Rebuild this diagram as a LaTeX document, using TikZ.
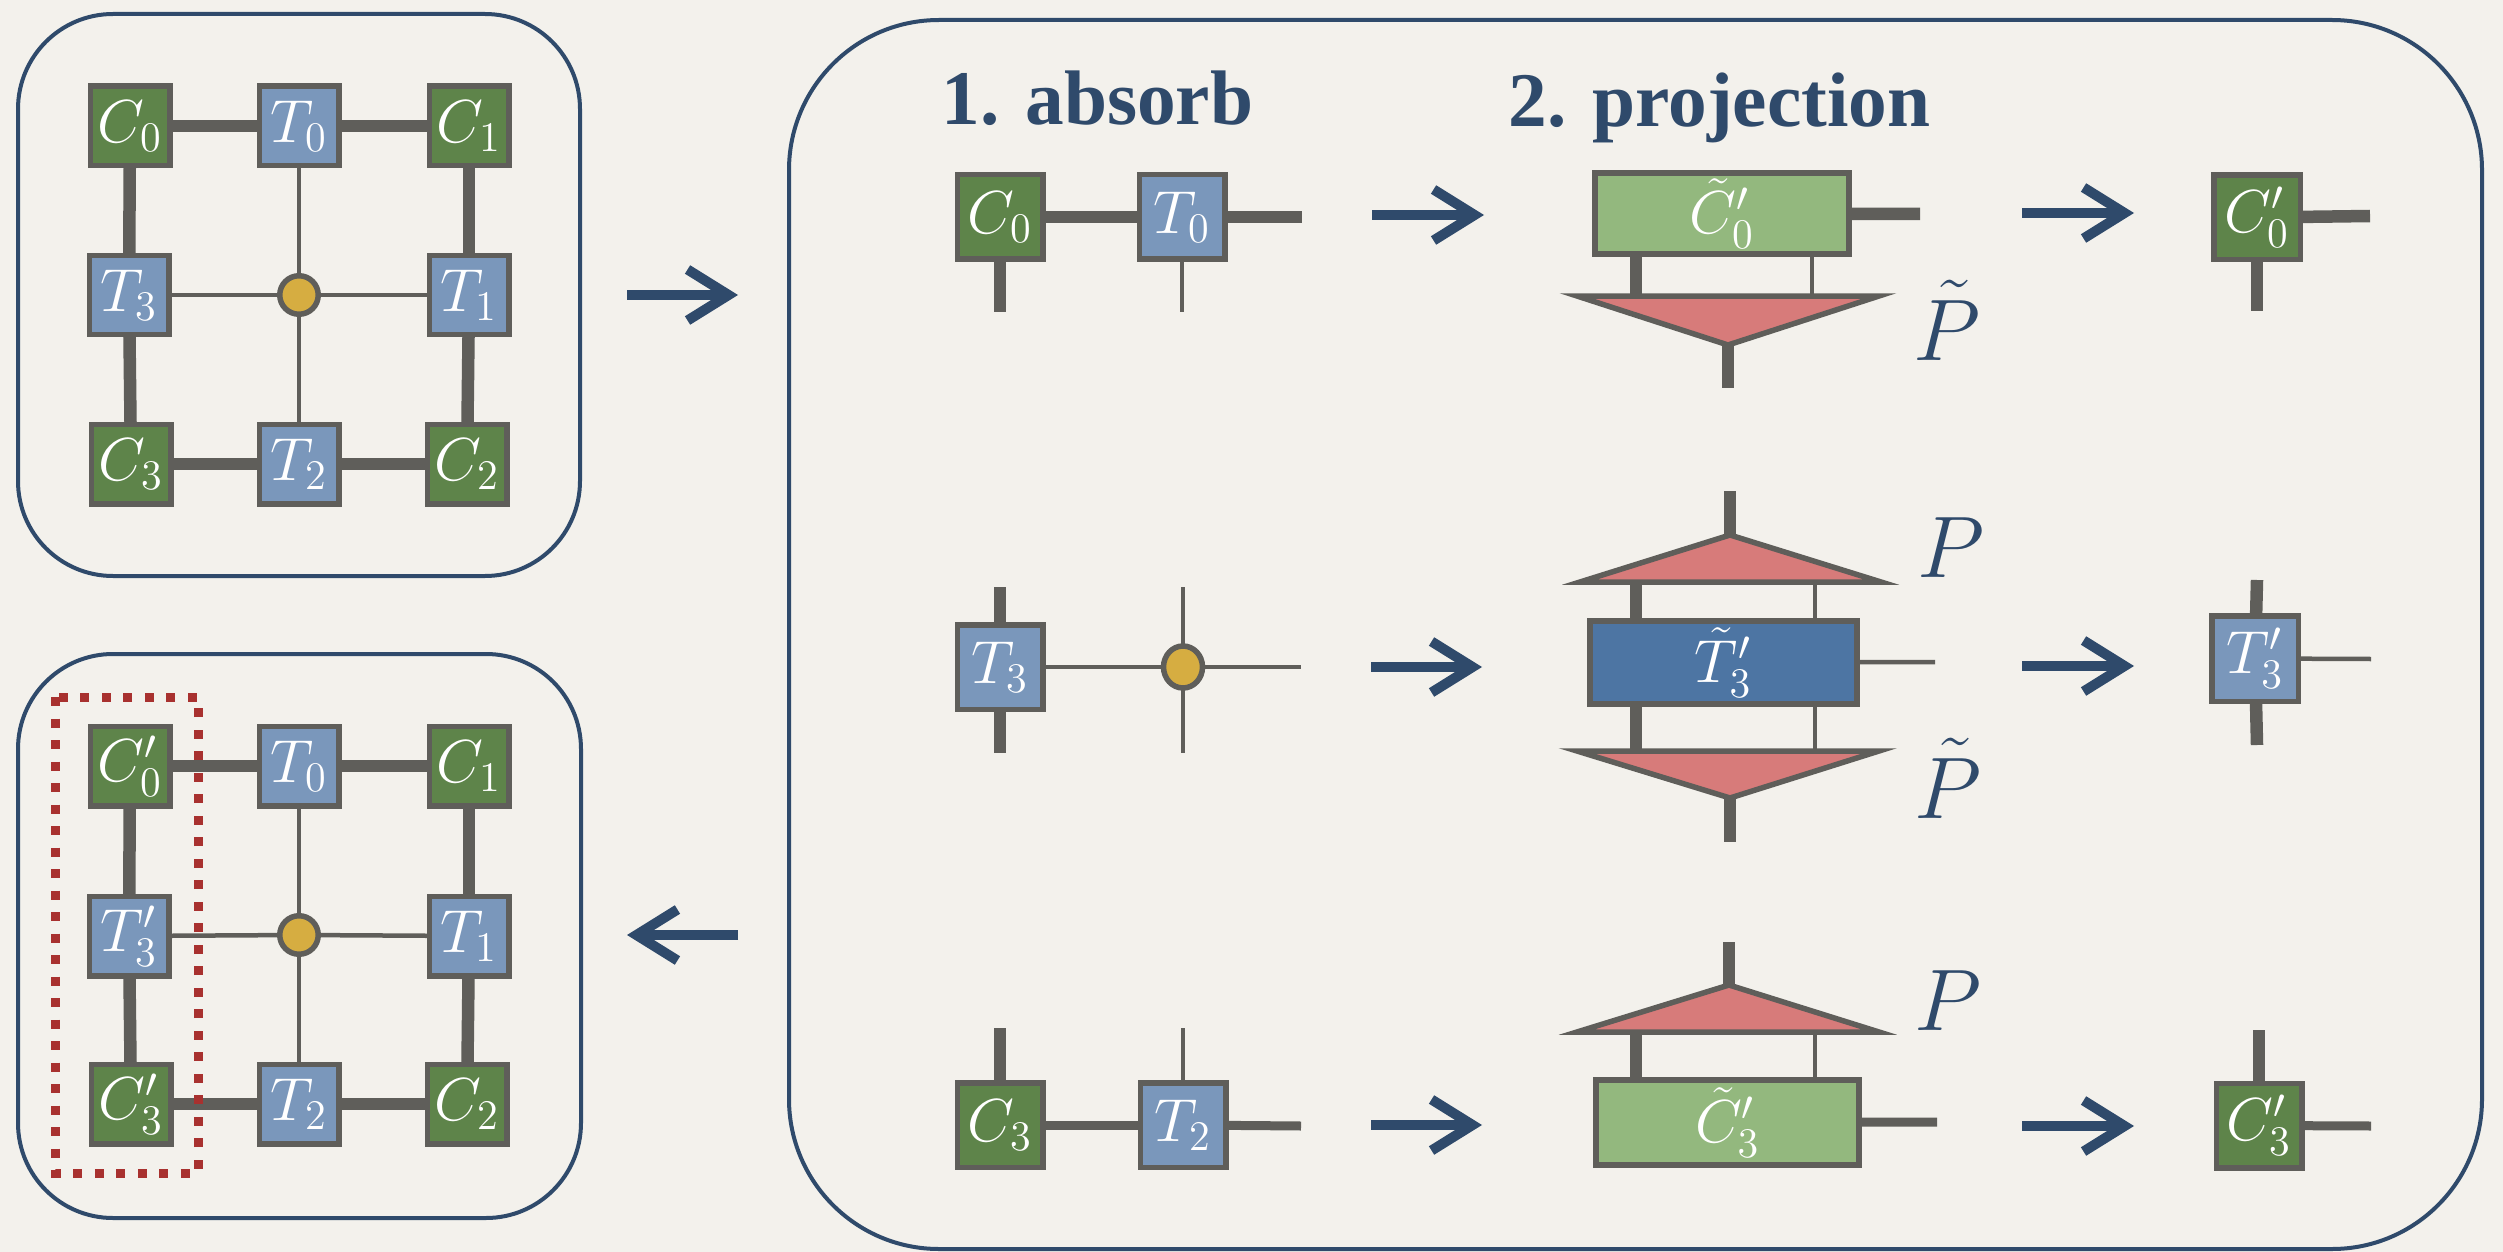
\documentclass[tikz,border=0pt]{standalone}
\usepackage{fontspec}
\newfontfamily\titlefont{Liberation Serif}
\usetikzlibrary{arrows.meta,shapes.geometric}
\definecolor{paper}{HTML}{F3F1EC}
\definecolor{navy}{HTML}{2F4A6B}
\definecolor{lgray}{HTML}{5F5E5A}
\definecolor{cgreen}{HTML}{5E844A}
\definecolor{tblue}{HTML}{7A97BB}
\definecolor{lgreen}{HTML}{93B87E}
\definecolor{dblue}{HTML}{4D75A3}
\definecolor{pred}{HTML}{D77B7A}
\definecolor{ygold}{HTML}{D6AD41}
\definecolor{dred}{HTML}{A8312F}
\pgfdeclarelayer{edges}
\pgfsetlayers{edges,main}
\begin{document}
\begin{tikzpicture}[x=0.1mm,y=-0.1mm,
  tn/.style={draw=lgray, line width=0.55mm, minimum width=7.95mm, minimum height=7.95mm, inner sep=0pt, text=white, font=\fontsize{16.7}{20}\selectfont},
  rn/.style={tn, minimum width=8.55mm, minimum height=8.45mm},
  cg/.style={tn, fill=cgreen},
  tb/.style={tn, fill=tblue},
  bigbox/.style={draw=lgray, line width=0.6mm, inner sep=0pt, text=white, font=\fontsize{16.7}{20}\selectfont},
  dot/.style={circle, draw=lgray, fill=ygold, line width=0.55mm, minimum size=3.85mm, inner sep=0pt},
  thickb/.style={draw=lgray, line width=1.25mm},
  midb/.style={draw=lgray, line width=0.9mm},
  thinb/.style={draw=lgray, line width=0.45mm},
  panel/.style={draw=navy, line width=0.4mm},
  arr/.style={draw=navy, line width=1mm, -{Straight Barb[length=4.1mm,width=5.1mm]}},
  tri/.style={fill=pred, draw=lgray, line width=0.55mm, line join=miter},
  lab/.style={text=navy, font=\fontsize{26}{30}\selectfont, inner sep=0pt},
  ttl/.style={text=navy, font=\titlefont\bfseries\fontsize{22}{26}\selectfont, inner sep=0pt, anchor=base west}
]
\useasboundingbox (0,0) rectangle (2503,1252);
\begin{pgfonlayer}{edges}
\fill[paper] (0,0) rectangle (2503,1252);
\end{pgfonlayer}

% panels
\draw[panel, rounded corners=9.5mm] (18,14) rectangle (580,576);
\draw[panel, rounded corners=9.5mm] (18,654) rectangle (581,1218);
\draw[panel, rounded corners=15mm] (789,20) rectangle (2482,1249);

% ---------- top grid ----------
\node[cg] (gC0) at (130,126) {$C_0$};
\node[tb] (gT0) at (299,126) {$T_0$};
\node[cg] (gC1) at (469,126) {$C_1$};
\node[tb] (gT3) at (129,295) {$T_3$};
\node[dot] (gX) at (299,295) {};
\node[tb] (gT1) at (469,295) {$T_1$};
\node[cg] (gC3) at (131,464) {$C_3$};
\node[tb] (gT2) at (299,464) {$T_2$};
\node[cg] (gC2) at (467,464) {$C_2$};

% ---------- bottom grid ----------
\node[cg] (hC0) at (130,766) {$C'_0$};
\node[tb] (hT0) at (299,766) {$T_0$};
\node[cg] (hC1) at (469,766) {$C_1$};
\node[tb] (hT3) at (129,936) {$T'_3$};
\node[dot] (hX) at (299,935) {};
\node[tb] (hT1) at (469,936) {$T_1$};
\node[cg] (hC3) at (131,1104) {$C'_3$};
\node[tb] (hT2) at (299,1104) {$T_2$};
\node[cg] (hC2) at (467,1104) {$C_2$};
\draw[dred, line width=0.9mm, dash pattern=on 0.9mm off 1.25mm] (55,697) rectangle (198,1173);

% left arrows
\coordinate (la1) at (627,295); \coordinate (lb1) at (738,295);
\coordinate (la2) at (738,935); \coordinate (lb2) at (627,935);
\draw[arr] (la1) -- (lb1);
\draw[arr] (la2) -- (lb2);

% titles
\node[ttl] (t1) at (941,125) {1. absorb};
\node[ttl] (t2) at (1508,127) {2. projection};

% ---------- row 1 ----------
\node[rn, fill=cgreen] (rC0) at (1000,217) {$C_0$};
\node[rn, fill=tblue] (rT0) at (1182,217) {$T_0$};
\coordinate (r1e) at (1302,217);
\coordinate (r1d1) at (1000,312);
\coordinate (r1d2) at (1182,312);
\coordinate (a1s) at (1372,215); \coordinate (a1e) at (1484,215);
\draw[arr] (a1s) -- (a1e);
\node[bigbox, fill=lgreen, minimum width=25.4mm, minimum height=8.1mm] (bC0) at (1722,213.5) {$\tilde{C}'_0$};
\coordinate (b1e) at (1920,214);
\coordinate (t1L) at (1577,296); \coordinate (t1R) at (1879,296); \coordinate (t1A) at (1728,345);
\coordinate (t1leg) at (1728,388);
\coordinate (l1a) at (1636,296); \coordinate (l1b) at (1812,296);
\draw[tri] (t1L) -- (t1R) -- (t1A) -- cycle;
\node[lab, anchor=base west] (p1) at (1913,360) {$\tilde{P}$};
\coordinate (o1s) at (2022,213); \coordinate (o1e) at (2134,213);
\draw[arr] (o1s) -- (o1e);
\node[rn, fill=cgreen, minimum width=8.65mm] (oC0) at (2257,217.5) {$C'_0$};
\coordinate (oc0e) at (2370,216);
\coordinate (oc0d) at (2257,311);

% ---------- row 2 ----------
\node[rn, fill=tblue] (rT3) at (1000,667) {$T_3$};
\coordinate (r2u) at (1000,587); \coordinate (r2d) at (1000,753);
\node[dot, ellipse, minimum width=3.9mm, minimum height=4.2mm] (rX) at (1183,667) {};
\coordinate (r2e) at (1301,667);
\coordinate (r2xu) at (1183,587); \coordinate (r2xd) at (1183,753);
\coordinate (a2s) at (1371,667); \coordinate (a2e) at (1482,667);
\draw[arr] (a2s) -- (a2e);
\node[bigbox, fill=dblue, minimum width=26.7mm, minimum height=8.3mm] (bT3) at (1723.5,662.5) {$\tilde{T}'_3$};
\coordinate (b2e) at (1935,662);
\coordinate (t2L) at (1580,582); \coordinate (t2R) at (1881,582); \coordinate (t2A) at (1730,535);
\coordinate (t2leg) at (1730,491);
\coordinate (l2a) at (1636,582); \coordinate (l2b) at (1815,582);
\coordinate (t3L) at (1577,751); \coordinate (t3R) at (1879,751); \coordinate (t3A) at (1730,798);
\coordinate (t3leg) at (1730,842);
\coordinate (l3a) at (1636,751); \coordinate (l3b) at (1815,751);
\draw[tri] (t2L) -- (t2R) -- (t2A) -- cycle;
\draw[tri] (t3L) -- (t3R) -- (t3A) -- cycle;
\node[lab, anchor=base west] (p2) at (1917,577) {$P$};
\node[lab, anchor=base west] (p3) at (1914,818) {$\tilde{P}$};
\coordinate (o2s) at (2022,666); \coordinate (o2e) at (2134,666);
\draw[arr] (o2s) -- (o2e);
\node[rn, fill=tblue, minimum width=8.65mm, minimum height=8.55mm] (oT3) at (2255,658.5) {$T'_3$};
\coordinate (ot3u) at (2257,580); \coordinate (ot3d) at (2257,745);
\coordinate (ot3e) at (2371,659);

% ---------- row 3 ----------
\node[rn, fill=cgreen] (rC3) at (1000,1125) {$C_3$};
\node[rn, fill=tblue] (rT2) at (1183,1125) {$T_2$};
\coordinate (r3u1) at (1000,1028); \coordinate (r3u2) at (1183,1028);
\coordinate (r3e) at (1301,1126);
\coordinate (a3s) at (1371,1125); \coordinate (a3e) at (1482,1125);
\draw[arr] (a3s) -- (a3e);
\node[bigbox, fill=lgreen, minimum width=26.3mm, minimum height=8.5mm] (bC3) at (1727.5,1122.5) {$\tilde{C}'_3$};
\coordinate (b3e) at (1937,1122);
\coordinate (t4L) at (1577,1032); \coordinate (t4R) at (1879,1032); \coordinate (t4A) at (1729,985);
\coordinate (t4leg) at (1729,942);
\coordinate (l4a) at (1636,1032); \coordinate (l4b) at (1815,1032);
\draw[tri] (t4L) -- (t4R) -- (t4A) -- cycle;
\node[lab, anchor=base west] (p4) at (1914,1030) {$P$};
\coordinate (o3s) at (2022,1126); \coordinate (o3e) at (2134,1126);
\draw[arr] (o3s) -- (o3e);
\node[rn, fill=cgreen, minimum width=8.55mm] (oC3) at (2259,1125.5) {$C'_3$};
\coordinate (oc3u) at (2259,1030);
\coordinate (oc3e) at (2371,1126);

% ---------- bonds ----------
\begin{pgfonlayer}{edges}
% top grid
\draw[thickb] (gC0.center) -- (gT0.center);
\draw[thickb] (gT0.center) -- (gC1.center);
\draw[thickb] (gC1.center) -- (gT1.center);
\draw[thickb] (gT1.center) -- (gC2.center);
\draw[thickb] (gC2.center) -- (gT2.center);
\draw[thickb] (gT2.center) -- (gC3.center);
\draw[thickb] (gC3.center) -- (gT3.center);
\draw[thickb] (gT3.center) -- (gC0.center);
\draw[thinb] (gT0.center) -- (gX.center);
\draw[thinb] (gX.center) -- (gT2.center);
\draw[thinb] (gT3.center) -- (gX.center);
\draw[thinb] (gX.center) -- (gT1.center);
% bottom grid
\draw[thickb] (hC0.center) -- (hT0.center);
\draw[thickb] (hT0.center) -- (hC1.center);
\draw[thickb] (hC1.center) -- (hT1.center);
\draw[thickb] (hT1.center) -- (hC2.center);
\draw[thickb] (hC2.center) -- (hT2.center);
\draw[thickb] (hT2.center) -- (hC3.center);
\draw[thickb] (hC3.center) -- (hT3.center);
\draw[thickb] (hT3.center) -- (hC0.center);
\draw[thinb] (hT0.center) -- (hX.center);
\draw[thinb] (hX.center) -- (hT2.center);
\draw[thinb] (hT3.center) -- (hX.center);
\draw[thinb] (hX.center) -- (hT1.center);
% row 1
\draw[thickb] (rC0.center) -- (rT0.center);
\draw[thickb] (rT0.center) -- (r1e);
\draw[thickb] (rC0.center) -- (r1d1);
\draw[thinb] (rT0.center) -- (r1d2);
\draw[thickb] (bC0.center) -- (b1e);
\draw[thickb] (l1a) -- (l1a |- bC0.center);
\draw[thinb] (l1b) -- (l1b |- bC0.center);
\draw[thickb] (t1A) -- (t1leg);
\draw[thickb] (oC0.center) -- (oc0e);
\draw[thickb] (oC0.center) -- (oc0d);
% row 2
\draw[thickb] (rT3.center) -- (r2u);
\draw[thickb] (rT3.center) -- (r2d);
\draw[thinb] (rT3.center) -- (rX.center);
\draw[thinb] (rX.center) -- (r2e);
\draw[thinb] (r2xu) -- (rX.center);
\draw[thinb] (rX.center) -- (r2xd);
\draw[thinb] (bT3.center) -- (b2e);
\draw[thickb] (t2A) -- (t2leg);
\draw[thickb] (l2a) -- (l2a |- bT3.center);
\draw[thinb] (l2b) -- (l2b |- bT3.center);
\draw[thickb] (l3a) -- (l3a |- bT3.center);
\draw[thinb] (l3b) -- (l3b |- bT3.center);
\draw[thickb] (t3A) -- (t3leg);
\draw[thickb] (oT3.center) -- (ot3u);
\draw[thickb] (oT3.center) -- (ot3d);
\draw[thinb] (oT3.center) -- (ot3e);
% row 3
\draw[thickb] (rC3.center) -- (r3u1);
\draw[thinb] (rT2.center) -- (r3u2);
\draw[midb] (rC3.center) -- (rT2.center);
\draw[midb] (rT2.center) -- (r3e);
\draw[midb] (bC3.center) -- (b3e);
\draw[thickb] (l4a) -- (l4a |- bC3.center);
\draw[thinb] (l4b) -- (l4b |- bC3.center);
\draw[thickb] (t4A) -- (t4leg);
\draw[thickb] (oC3.center) -- (oc3u);
\draw[midb] (oC3.center) -- (oc3e);
\end{pgfonlayer}
\end{tikzpicture}
\end{document}
